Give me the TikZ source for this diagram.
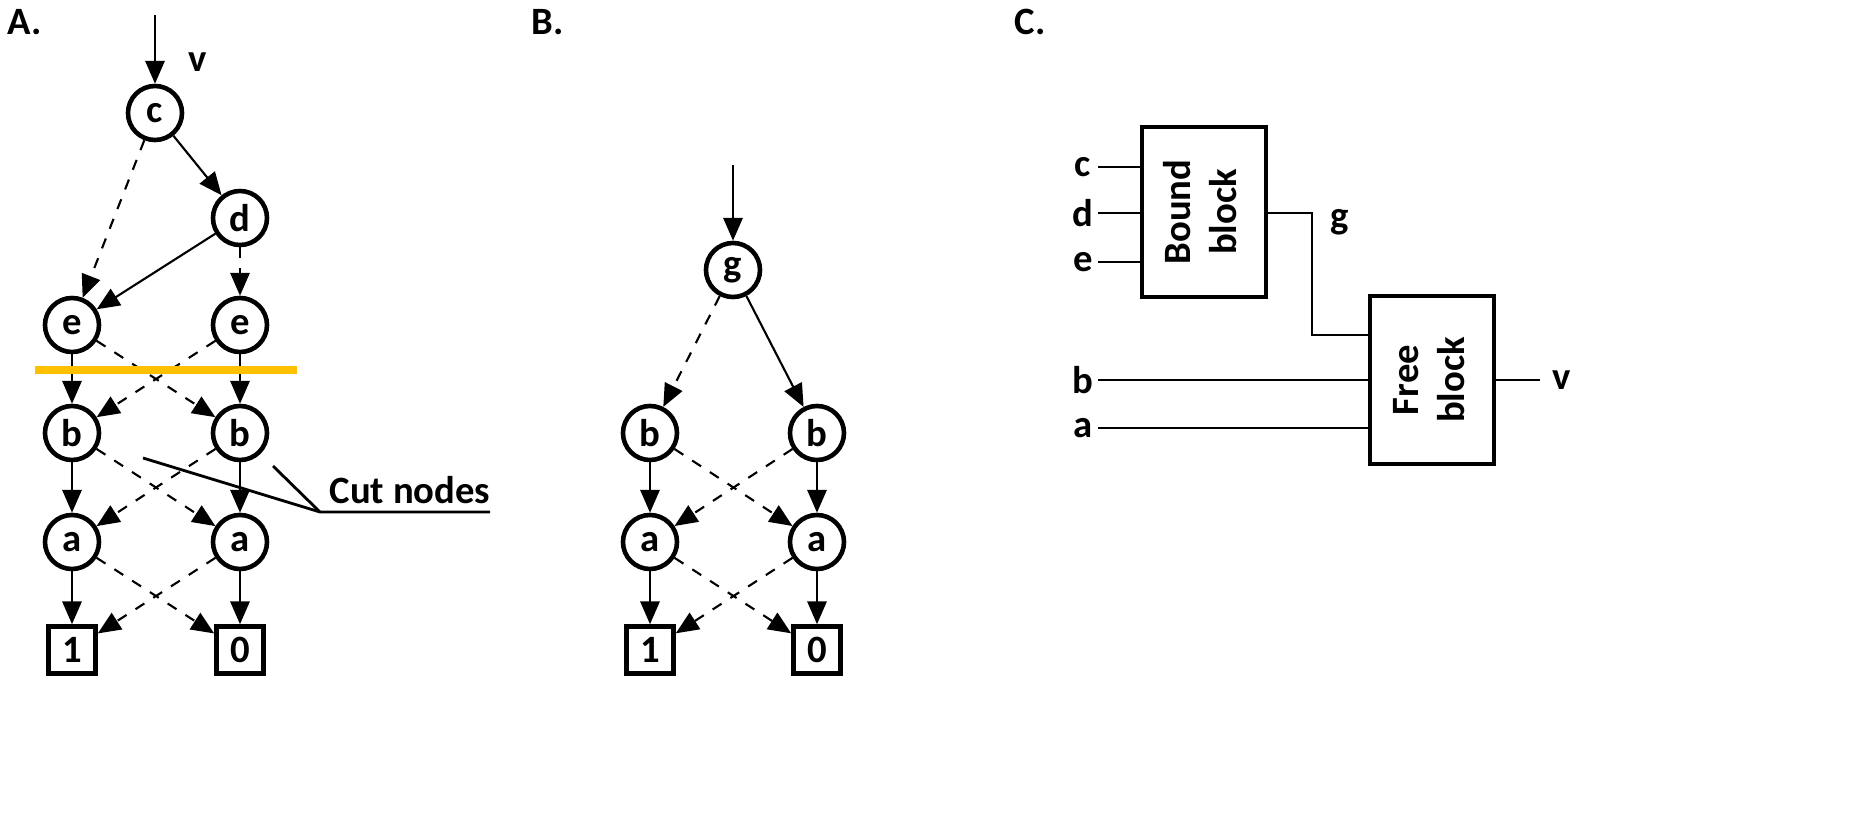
\documentclass[tikz,border=0pt]{standalone}
\usepackage{fontspec}
\setmainfont{Carlito}
\usetikzlibrary{arrows.meta}
\begin{document}
\begin{tikzpicture}[x=0.01cm,y=-0.01cm,
 font=\bfseries\fontsize{11}{13}\selectfont,
 nd/.style={circle,draw,line width=1.3pt,minimum size=0.54cm,inner sep=0pt},
 bx/.style={rectangle,draw,line width=1.3pt,minimum size=0.47cm,inner sep=0pt},
 blk/.style={rectangle,draw,line width=1.3pt,minimum width=1.24cm,minimum height=1.68cm,align=center},
 s/.style={-{Triangle[length=6.5pt,width=5.5pt]},line width=0.6pt},
 d/.style={s,dashed},
 w/.style={line width=0.8pt}]
\useasboundingbox (0,0) rectangle (1872,824);
\node at (25,22) {A.};
\node at (548,22) {B.};
\node at (1030,22) {C.};
% Panel A
\node[nd] (c) at (155,113) {c};
\node[nd] (d) at (240,218) {d};
\node[nd] (e1) at (72,325) {e};
\node[nd] (e2) at (240,325) {e};
\node[nd] (b1) at (72,433) {b};
\node[nd] (b2) at (240,433) {b};
\node[nd] (a1) at (72,542) {a};
\node[nd] (a2) at (240,542) {a};
\node[bx] (o1) at (72,650) {1};
\node[bx] (o0) at (240,650) {0};
\coordinate (vt) at (155,15);
\draw[s] (vt) -- (c);
\node at (198,62) {v};
\draw[d] (c) -- (e1); \draw[s] (c) -- (d);
\draw[s] (d) -- (e1); \draw[d] (d) -- (e2);
\draw[s] (e1) -- (b1); \draw[d] (e1) -- (b2);
\draw[d] (e2) -- (b1); \draw[s] (e2) -- (b2);
\draw[s] (b1) -- (a1); \draw[d] (b1) -- (a2);
\draw[d] (b2) -- (a1); \draw[s] (b2) -- (a2);
\draw[s] (a1) -- (o1); \draw[d] (a1) -- (o0);
\draw[d] (a2) -- (o1); \draw[s] (a2) -- (o0);
\coordinate (ol) at (35,370); \coordinate (or) at (297,370);
\draw[line width=2.5pt,color={rgb,255:red,255;green,192;blue,0}] (ol) -- (or);
\node (cut) at (410,490) {Cut nodes};
\coordinate (cj) at (320,512); \coordinate (ce) at (490,512);
\coordinate (c1) at (143,458); \coordinate (c2) at (273,466);
\draw[w] (c1) -- (cj) -- (ce); \draw[w] (c2) -- (cj);
% Panel B
\node[nd] (g) at (733,270) {g};
\node[nd] (bb1) at (650,433) {b};
\node[nd] (bb2) at (817,433) {b};
\node[nd] (ba1) at (650,542) {a};
\node[nd] (ba2) at (817,542) {a};
\node[bx] (bo1) at (650,650) {1};
\node[bx] (bo0) at (817,650) {0};
\coordinate (gt) at (733,165);
\draw[s] (gt) -- (g);
\draw[d] (g) -- (bb1); \draw[s] (g) -- (bb2);
\draw[s] (bb1) -- (ba1); \draw[d] (bb1) -- (ba2);
\draw[d] (bb2) -- (ba1); \draw[s] (bb2) -- (ba2);
\draw[s] (ba1) -- (bo1); \draw[d] (ba1) -- (bo0);
\draw[d] (ba2) -- (bo1); \draw[s] (ba2) -- (bo0);
% Panel C
\node[blk] (bound) at (1204,212) {\rotatebox{90}{\begin{tabular}{c}Bound\\block\end{tabular}}};
\node[blk] (free) at (1432,380) {\rotatebox{90}{\begin{tabular}{c}Free\\block\end{tabular}}};
\node (lc) at (1083,167) {c}; \node (ld) at (1083,213) {d}; \node (le) at (1083,262) {e};
\node (lb) at (1083,380) {b}; \node (la) at (1083,428) {a};
\draw[w] (1098,167) -- (1142,167);
\draw[w] (1098,213) -- (1142,213);
\draw[w] (1098,262) -- (1142,262);
\draw[w] (1098,380) -- (1370,380);
\draw[w] (1098,428) -- (1370,428);
\draw[w] (1266,213) -- (1312,213) -- (1312,335) -- (1370,335);
\node at (1340,222) {g};
\draw[w] (1495,380) -- (1540,380);
\node at (1562,380) {v};
\end{tikzpicture}
\end{document}
